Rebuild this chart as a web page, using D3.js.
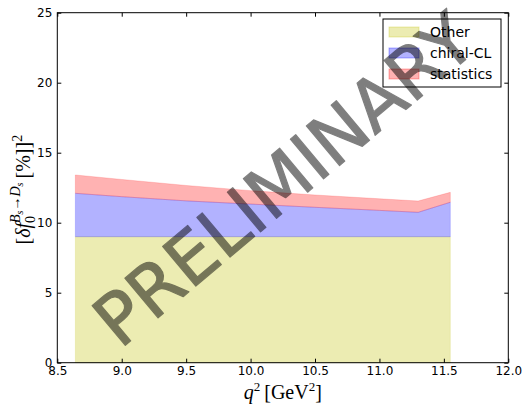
<!DOCTYPE html>
<html>
<head>
<meta charset="utf-8">
<script src="https://cdn.jsdelivr.net/npm/d3@7"></script>
<style>
  body { margin: 0; background: #fff; }
  text { font-family: "DejaVu Sans", sans-serif; }
  .math { font-family: "Liberation Serif", "DejaVu Serif", serif; }
</style>
</head>
<body>
<div class="graph"></div>
<script>
// q^2 sample points and stacked band tops (values in [%]^2)
const q2 = [8.64, 9.0, 9.5, 10.0, 10.5, 11.0, 11.3, 11.55];
const otherTop = [9.0, 9.0, 9.0, 9.0, 9.0, 9.0, 9.0, 9.0];
const chiralTop = [12.10, 11.86, 11.56, 11.33, 11.10, 10.88, 10.74, 11.46];
const statTop = [13.41, 13.09, 12.66, 12.29, 11.98, 11.71, 11.55, 12.17];

const legendLabels = ['Other', 'chiral-CL', 'statistics'];
const bandColors = ['#bfbf00', '#0000ff', '#ff0000'];
const xTicks = [8.5, 9.0, 9.5, 10.0, 10.5, 11.0, 11.5, 12.0];
const yTicks = [0, 5, 10, 15, 20, 25];

const dim = { w: 523, h: 407, left: 57.3, right: 508.3, top: 12.7, bottom: 362.7 };

const svg = d3.select('.graph').append('svg')
    .attr('width', dim.w).attr('height', dim.h);

const xScale = d3.scaleLinear().domain([8.5, 12.0]).range([dim.left, dim.right]);
const yScale = d3.scaleLinear().domain([0, 25]).range([dim.bottom, dim.top]);

// bands: lower / upper edges
const zeros = q2.map(() => 0);
const bands = [
    { lo: zeros, hi: otherTop },
    { lo: otherTop, hi: chiralTop },
    { lo: chiralTop, hi: statTop }
];

const area = d3.area()
    .x(d => xScale(d.x))
    .y0(d => yScale(d.lo))
    .y1(d => yScale(d.hi));

bands.forEach((b, i) => {
    const pts = q2.map((x, j) => ({ x: x, lo: b.lo[j], hi: b.hi[j] }));
    svg.append('path')
        .attr('d', area(pts))
        .attr('fill', bandColors[i])
        .attr('fill-opacity', 0.3)
        .attr('stroke', bandColors[i])
        .attr('stroke-opacity', 0.2)
        .attr('stroke-width', 0.8);
});

// axes, matplotlib classic look: ticks inside on all sides
const xAxis = d3.axisBottom(xScale).tickValues(xTicks).tickFormat(d3.format('.1f'))
    .tickSizeInner(-4).tickSizeOuter(0).tickPadding(4);
const yAxis = d3.axisLeft(yScale).tickValues(yTicks).tickFormat(d3.format('d'))
    .tickSizeInner(-4).tickSizeOuter(0).tickPadding(5);

const gx = svg.append('g').attr('transform', `translate(0,${dim.bottom})`).call(xAxis);
const gy = svg.append('g').attr('transform', `translate(${dim.left},0)`).call(yAxis);
svg.append('g').attr('transform', `translate(0,${dim.top})`)
    .call(d3.axisTop(xScale).tickValues(xTicks).tickSizeInner(-4).tickSizeOuter(0).tickFormat(''));
svg.append('g').attr('transform', `translate(${dim.right},0)`)
    .call(d3.axisRight(yScale).tickValues(yTicks).tickSizeInner(-4).tickSizeOuter(0).tickFormat(''));

svg.selectAll('.domain').remove();
svg.selectAll('.tick line').attr('stroke', '#000');
[gx, gy].forEach(g => g.selectAll('text')
    .attr('fill', '#000').style('font-size', '12px').style('font-family', '"DejaVu Sans", sans-serif'));

svg.append('rect')
    .attr('x', dim.left).attr('y', dim.top)
    .attr('width', dim.right - dim.left).attr('height', dim.bottom - dim.top)
    .attr('fill', 'none').attr('stroke', '#000').attr('stroke-width', 1);

// x label: q^2 [GeV^2]
const xl = svg.append('text').attr('class', 'math')
    .attr('x', (dim.left + dim.right) / 2).attr('y', 399)
    .attr('text-anchor', 'middle').style('font-size', '20px');
xl.append('tspan').style('font-style', 'italic').text('q');
xl.append('tspan').attr('dy', -8).style('font-size', '13px').text('2');
xl.append('tspan').attr('dy', 8).text('\u2009[GeV');
xl.append('tspan').attr('dy', -8).style('font-size', '13px').text('2');
xl.append('tspan').attr('dy', 8).text(']');

// y label: [δ f_0^{B_s→D_s} [%]]^2
const yl = svg.append('text').attr('class', 'math')
    .attr('transform', `translate(30,${(dim.top + dim.bottom) / 2 + 2}) rotate(-90)`)
    .attr('text-anchor', 'middle').style('font-size', '20px');
yl.append('tspan').text('[');
yl.append('tspan').style('font-style', 'italic').text('δf');
yl.append('tspan').attr('dy', 5).style('font-size', '14px').text('0');
yl.append('tspan').attr('dx', -7).attr('dy', -15).style('font-size', '14px').style('font-style', 'italic').text('B');
yl.append('tspan').attr('dy', 3).style('font-size', '10px').style('font-style', 'italic').text('s');
yl.append('tspan').attr('dy', -3).style('font-size', '14px').text('→');
yl.append('tspan').style('font-size', '14px').style('font-style', 'italic').text('D');
yl.append('tspan').attr('dy', 3).style('font-size', '10px').style('font-style', 'italic').text('s');
yl.append('tspan').attr('dy', 7).text('\u2009[%]]');
yl.append('tspan').attr('dy', -8).style('font-size', '14px').text('2');

// legend
const lg = svg.append('g').attr('transform', 'translate(383,19)');
lg.append('rect').attr('width', 118).attr('height', 68)
    .attr('fill', '#fff').attr('stroke', '#000').attr('stroke-width', 1);
legendLabels.forEach((name, i) => {
    const cy = 13 + i * 21;
    lg.append('rect').attr('x', 6).attr('y', cy - 5).attr('width', 30).attr('height', 10)
        .attr('fill', bandColors[i]).attr('fill-opacity', 0.3)
        .attr('stroke', bandColors[i]).attr('stroke-opacity', 0.3);
    lg.append('text').attr('x', 47).attr('y', cy).attr('dy', '0.36em')
        .style('font-size', '14px').attr('fill', '#000').text(name);
});

// watermark
svg.append('g').attr('opacity', 0.5)
  .append('text')
    .attr('transform', 'translate(284,180) rotate(-40)')
    .attr('text-anchor', 'middle').attr('dominant-baseline', 'central')
    .style('font-size', '71px').attr('fill', '#000')
    .attr('stroke', '#000').attr('stroke-width', 1.2).attr('stroke-linejoin', 'round')
    .text('PRELIMINARY');
</script>
</body>
</html>
